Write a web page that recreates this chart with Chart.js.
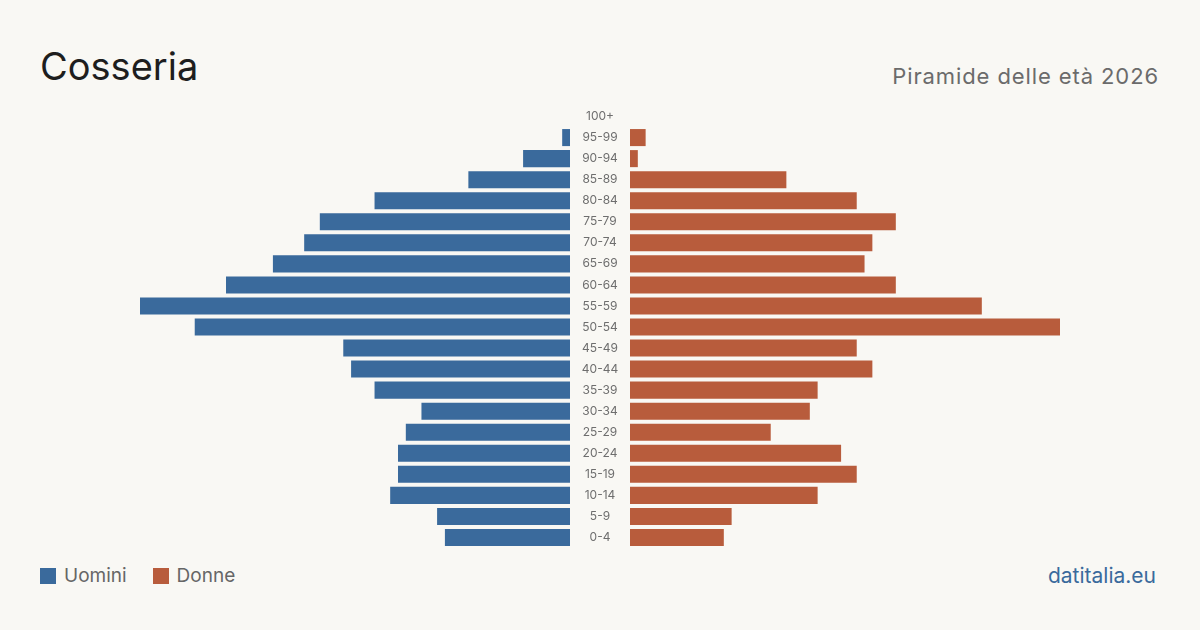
<!DOCTYPE html>
<html>
<head>
<meta charset="utf-8">
<script src="https://cdn.jsdelivr.net/npm/chart.js"></script>
<style>
	body{
		margin:0;
		width:1200px;
		height:630px;
		background:#f9f8f4;
		font-family:Inter, "Noto Sans", sans-serif;
		position:relative;
		overflow:hidden;
	}
	h1{
		position:absolute;
		left:40px;
		top:42px;
		margin:0;
		font-size:38px;
		font-weight:400;
		color:#1e1e1e;
		line-height:48px;
	}
	.sub{
		position:absolute;
		right:41px;
		top:62px;
		font-size:22px;
		letter-spacing:0.9px;
		color:#6b6b6b;
		line-height:28px;
	}
	.legend{
		position:absolute;
		left:40px;
		top:564px;
		font-size:19px;
		color:#666;
		display:flex;
		align-items:center;
	}
	.legend span.box{
		display:inline-block;
		width:16px;
		height:16px;
		margin-right:8px;
	}
	.legend .item{display:flex;align-items:center;margin-right:26px;line-height:24px;}
	.brand{
		position:absolute;
		right:44px;
		top:564px;
		font-size:21px;
		color:#3a6a9c;
		line-height:24px;
	}
	.wrap{position:absolute;}
</style>
</head>
<body>
<h1>Cosseria</h1>
<div class="sub">Piramide delle età 2026</div>

<div class="wrap" style="left:140px;top:106px;width:490px;height:442px;">
	<canvas id="male_chart"></canvas>
</div>
<div class="wrap" style="left:630px;top:106px;width:430px;height:442px;">
	<canvas id="female_chart"></canvas>
</div>

<div class="legend">
	<div class="item"><span class="box" style="background:#3a6a9c"></span>Uomini</div>
	<div class="item"><span class="box" style="background:#b85c3c"></span>Donne</div>
</div>
<div class="brand">datitalia.eu</div>

<script>
// age classes, top to bottom
const ageGroups = ['100+','95-99','90-94','85-89','80-84','75-79','70-74','65-69','60-64','55-59','50-54','45-49','40-44','35-39','30-34','25-29','20-24','15-19','10-14','5-9','0-4'];
const males   = [0, 1, 6, 13, 25, 32, 34, 38, 44, 55, 48, 29, 28, 25, 19, 21, 22, 22, 23, 17, 16];
const females = [0, 2, 1, 20, 29, 34, 31, 30, 34, 45, 55, 29, 31, 24, 23, 18, 27, 29, 24, 13, 12];
const maxValue = 55;

const blue = '#3a6a9c';
const orange = '#b85c3c';

Chart.defaults.animation = false;
Chart.defaults.font.family = 'Inter, "Noto Sans", sans-serif';

// age labels in the gap right of the men's bars, placed on the y scale
const ageLabels = {
	id: 'ageLabels',
	afterDraw(chart) {
		const ctx = chart.ctx;
		const y = chart.scales.y;
		const cx = chart.chartArea.right + 30;
		ctx.save();
		ctx.font = '12px Inter, "Noto Sans", sans-serif';
		ctx.fillStyle = '#6e6e6e';
		ctx.textAlign = 'center';
		ctx.textBaseline = 'middle';
		ageGroups.forEach((lab, i) => {
			ctx.fillText(lab, cx, y.getPixelForValue(i));
		});
		ctx.restore();
	}
};

// men on the left
new Chart(document.getElementById('male_chart').getContext('2d'), {
	type: 'bar',
	data: {
		labels: ageGroups,
		datasets: [{
			label: 'Uomini',
			data: males,
			backgroundColor: blue,
			borderWidth: 0,
			categoryPercentage: 0.81,
			barPercentage: 1
		}]
	},
	options: {
		indexAxis: 'y',
		responsive: true,
		maintainAspectRatio: false,
		layout: { padding: { left: 0, right: 60, top: 0, bottom: 0 } },
		scales: {
			x: { display: false, reverse: true, min: 0, max: maxValue },
			y: { display: false }
		},
		plugins: {
			legend: { display: false },
			tooltip: { enabled: false }
		}
	},
	plugins: [ageLabels]
});

// women on the right
new Chart(document.getElementById('female_chart').getContext('2d'), {
	type: 'bar',
	data: {
		labels: ageGroups,
		datasets: [{
			label: 'Donne',
			data: females,
			backgroundColor: orange,
			borderWidth: 0,
			categoryPercentage: 0.81,
			barPercentage: 1
		}]
	},
	options: {
		indexAxis: 'y',
		responsive: true,
		maintainAspectRatio: false,
		layout: { padding: 0 },
		scales: {
			x: { display: false, min: 0, max: maxValue },
			y: { display: false }
		},
		plugins: {
			legend: { display: false },
			tooltip: { enabled: false }
		}
	}
});
</script>
</body>
</html>
